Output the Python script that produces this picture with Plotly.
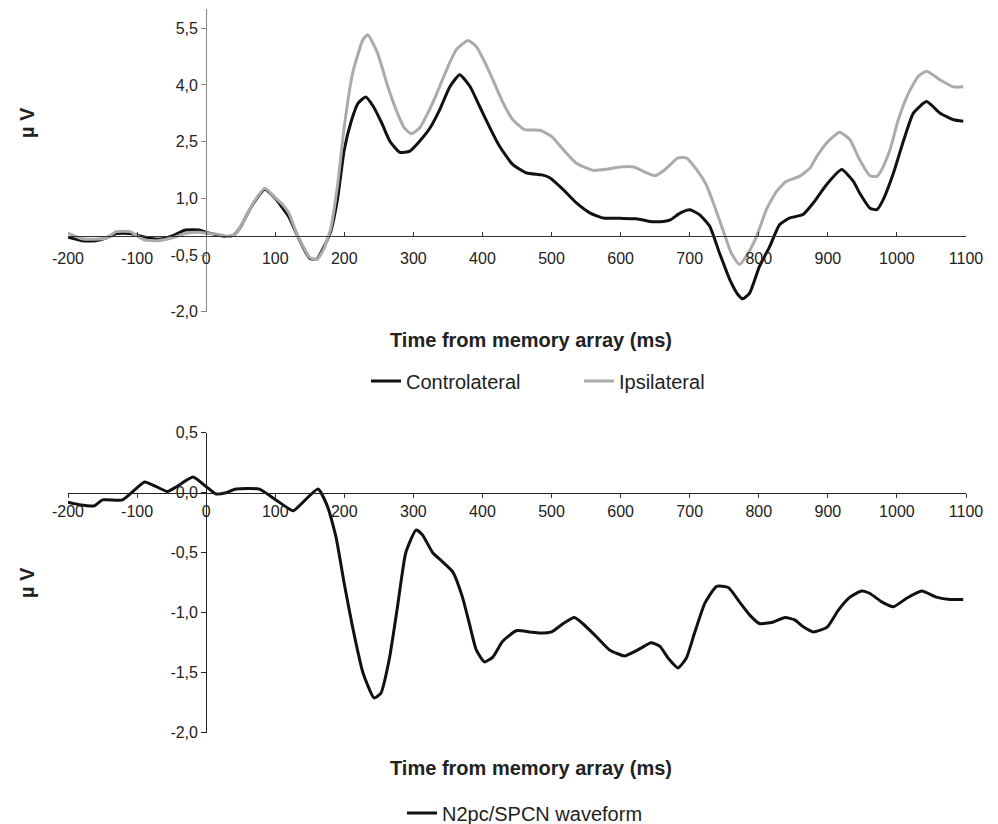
import plotly.graph_objects as go

# ---------------- data ----------------
t_contra = [-200, -180, -160, -145, -130, -110, -90, -70, -50, -30, -10, 0, 20, 30, 40, 50, 60, 70, 85,
            100, 110, 120, 130, 140, 150, 160, 170, 180, 190, 200, 210, 220, 231, 242, 254, 266, 280,
            295, 309, 324, 338, 353, 367, 382, 396, 411, 425, 444, 464, 486, 498, 517, 536, 556, 575,
            599, 623, 642, 662, 672, 686, 700, 714, 729, 743, 758, 770, 777, 787, 801, 816, 830, 845,
            864, 879, 898, 920, 937, 946, 961, 971, 980, 995, 1010, 1024, 1043, 1062, 1082, 1096]
v_contra = [-0.03, -0.12, -0.12, -0.05, 0.07, 0.07, -0.02, -0.08, 0.0, 0.16, 0.16, 0.1, 0.02, -0.01, 0.03,
            0.25, 0.6, 0.91, 1.24, 1.0, 0.76, 0.5, 0.1, -0.28, -0.59, -0.61, -0.3, 0.1, 0.96, 2.29, 3.04,
            3.52, 3.68, 3.43, 3.0, 2.51, 2.22, 2.25, 2.51, 2.86, 3.34, 3.96, 4.27, 3.96, 3.43, 2.86, 2.37,
            1.89, 1.67, 1.62, 1.54, 1.23, 0.88, 0.61, 0.48, 0.47, 0.46, 0.39, 0.39, 0.43, 0.61, 0.7, 0.57,
            0.26, -0.44, -1.15, -1.55, -1.66, -1.5, -0.8, -0.27, 0.3, 0.48, 0.57, 0.88, 1.36, 1.76, 1.45,
            1.14, 0.74, 0.7, 0.96, 1.67, 2.55, 3.26, 3.56, 3.26, 3.08, 3.04]

t_ipsi = [-200, -180, -160, -145, -130, -110, -90, -70, -50, -30, -10, 0, 20, 30, 40, 50, 60, 70, 85,
          100, 110, 120, 130, 140, 150, 160, 170, 180, 190, 200, 212, 227, 234, 248, 263, 275, 287, 297,
          309, 321, 333, 348, 362, 379, 391, 403, 415, 430, 444, 461, 483, 500, 517, 536, 561, 580, 599,
          619, 636, 650, 662, 672, 683, 695, 710, 724, 736, 748, 760, 772, 785, 797, 811, 826, 840, 859,
          874, 884, 898, 917, 932, 946, 961, 971, 978, 990, 1002, 1017, 1031, 1043, 1062, 1082, 1096]
v_ipsi = [0.08, -0.07, -0.08, -0.05, 0.12, 0.12, -0.1, -0.12, -0.05, 0.07, 0.1, 0.08, 0.04, -0.01, 0.03,
          0.25, 0.6, 0.93, 1.27, 1.02, 0.85, 0.6, 0.12, -0.26, -0.57, -0.62, -0.35, 0.17, 1.32, 2.9, 4.31,
          5.2, 5.33, 4.85, 3.96, 3.34, 2.86, 2.71, 2.86, 3.26, 3.74, 4.4, 4.93, 5.18, 5.02, 4.62, 4.14,
          3.52, 3.08, 2.82, 2.8, 2.64, 2.29, 1.93, 1.74, 1.77, 1.83, 1.83, 1.69, 1.6, 1.73, 1.89, 2.07,
          2.07, 1.76, 1.36, 0.79, 0.17, -0.44, -0.75, -0.44, 0.0, 0.7, 1.19, 1.45, 1.58, 1.8, 2.11, 2.46,
          2.75, 2.55, 2.02, 1.6, 1.58, 1.76, 2.29, 3.08, 3.79, 4.23, 4.36, 4.14, 3.95, 3.95]

t_diff = [-200, -184, -162, -150, -121, -106, -89, -72, -56, -43, -19, -2, 14, 29, 43, 77, 101, 126, 140,
          162, 176, 188, 200, 212, 227, 243, 253, 265, 277, 289, 304, 313, 328, 343, 357, 371, 381, 391,
          403, 415, 429, 449, 468, 483, 500, 517, 533, 545, 565, 584, 606, 628, 644, 657, 669, 683, 695,
          707, 722, 739, 756, 772, 787, 801, 820, 838, 852, 865, 879, 899, 915, 932, 949, 961, 978, 995,
          1014, 1036, 1057, 1077, 1096]
v_diff = [-0.08, -0.1, -0.11, -0.06, -0.06, 0.01, 0.09, 0.05, 0.01, 0.05, 0.13, 0.06, -0.01, 0.0, 0.03,
          0.03, -0.06, -0.15, -0.08, 0.03, -0.12, -0.37, -0.76, -1.12, -1.5, -1.71, -1.67, -1.39, -0.95,
          -0.5, -0.31, -0.35, -0.5, -0.58, -0.66, -0.87, -1.09, -1.31, -1.41, -1.37, -1.24, -1.15, -1.16,
          -1.17, -1.16, -1.09, -1.04, -1.09, -1.2, -1.31, -1.36, -1.3, -1.25, -1.28, -1.38, -1.46, -1.38,
          -1.17, -0.92, -0.78, -0.79, -0.91, -1.02, -1.09, -1.08, -1.04, -1.06, -1.12, -1.16, -1.12, -0.98,
          -0.87, -0.82, -0.84, -0.91, -0.95, -0.88, -0.82, -0.87, -0.89, -0.89]

x_ticks = list(range(-200, 1101, 100))
x_ticktext = [str(v) for v in x_ticks]
y1_ticks = [-2.0, -0.5, 1.0, 2.5, 4.0, 5.5]
y1_ticktext = ["-2,0", "-0,5", "1,0", "2,5", "4,0", "5,5"]
y2_ticks = [-2.0, -1.5, -1.0, -0.5, 0.0, 0.5]
y2_ticktext = ["-2,0", "-1,5", "-1,0", "-0,5", "0,0", "0,5"]

x_title = "Time from memory array (ms)"
y_title = "µ V"

# ---------------- layout geometry ----------------
# the page body has an 8px margin, so the figure is 990x816 and
# reference pixel positions are shifted by 8px.
OFF = 8
W, H = 998 - OFF, 824 - OFF
FONT = "Liberation Sans, Arial, Helvetica, sans-serif"

def px(xp):
    return (xp - OFF) / W

def py(yp):
    return 1 - (yp - OFF) / H

xd = [px(68), px(966)]
y1d = [py(311.7), py(9.4)]
y2d = [py(732.7), py(432.7)]
x_range = [-200, 1100]
y1_range = [-2.0, 6.0]
y2_range = [-2.0, 0.5]

def frac(val, rng, dom):
    return dom[0] + (val - rng[0]) / (rng[1] - rng[0]) * (dom[1] - dom[0])

fig = go.Figure()
fig.add_trace(go.Scatter(x=t_contra, y=v_contra, mode="lines", name="Controlateral",
                         line=dict(color="#111111", width=3, shape="spline", smoothing=0.5),
                         xaxis="x", yaxis="y", legend="legend"))
fig.add_trace(go.Scatter(x=t_ipsi, y=v_ipsi, mode="lines", name="Ipsilateral",
                         line=dict(color="#ababab", width=3, shape="spline", smoothing=0.5),
                         xaxis="x", yaxis="y", legend="legend"))
fig.add_trace(go.Scatter(x=t_diff, y=v_diff, mode="lines", name="N2pc/SPCN waveform",
                         line=dict(color="#111111", width=3, shape="spline", smoothing=0.5),
                         xaxis="x2", yaxis="y2", legend="legend2"))

tickfont = dict(family=FONT, size=16, color="#222222")
common_x = dict(range=x_range, domain=xd, anchor="free", showline=True, linewidth=1,
                tickvals=x_ticks, ticktext=x_ticktext, tickfont=tickfont, showgrid=False,
                zeroline=False, tickcolor="#333333", ticklen=4, tickwidth=1, automargin=False)

fig.update_layout(
    width=W, height=H, autosize=False,
    margin=dict(l=0, r=0, t=0, b=0, autoexpand=False),
    paper_bgcolor="white", plot_bgcolor="white",
    font=dict(family=FONT, color="#222222"),
    showlegend=True,
    xaxis=dict(**common_x, linecolor="#333333", ticks="inside", ticklabelstandoff=8,
               position=frac(0, y1_range, y1d)),
    yaxis=dict(range=y1_range, domain=y1d, anchor="free", position=frac(0, x_range, xd),
               showline=True, linecolor="#888888", linewidth=1, ticks="outside", ticklen=5,
               tickcolor="#888888", tickvals=y1_ticks, ticktext=y1_ticktext, tickfont=tickfont,
               showgrid=False, zeroline=False, automargin=False),
    xaxis2=dict(**common_x, linecolor="#222222", ticks="outside",
                position=frac(0, y2_range, y2d)),
    yaxis2=dict(range=y2_range, domain=y2d, anchor="free", position=frac(0, x_range, xd),
                showline=True, linecolor="#222222", linewidth=1, ticks="outside", ticklen=5,
                tickcolor="#222222", tickvals=y2_ticks, ticktext=y2_ticktext, tickfont=tickfont,
                showgrid=False, zeroline=False, automargin=False),
    legend=dict(orientation="h", x=px(366), y=py(381), xanchor="left", yanchor="middle",
                font=dict(family=FONT, size=20, color="#222222"), entrywidth=168,
                entrywidthmode="pixels", bgcolor="rgba(0,0,0,0)", itemclick=False),
    legend2=dict(orientation="h", x=px(402), y=py(813), xanchor="left", yanchor="middle",
                 font=dict(family=FONT, size=20, color="#222222"),
                 bgcolor="rgba(0,0,0,0)", itemclick=False),
    annotations=[
        dict(text="<b>" + x_title + "</b>", x=px(531), y=py(340), xref="paper", yref="paper",
             showarrow=False, font=dict(family=FONT, size=20, color="#222222"),
             xanchor="center", yanchor="middle"),
        dict(text="<b>" + x_title + "</b>", x=px(531), y=py(768), xref="paper", yref="paper",
             showarrow=False, font=dict(family=FONT, size=20, color="#222222"),
             xanchor="center", yanchor="middle"),
        dict(text="<b>" + y_title + "</b>", x=px(27), y=py(123), xref="paper", yref="paper",
             showarrow=False, textangle=-90, font=dict(family=FONT, size=20, color="#222222"),
             xanchor="center", yanchor="middle"),
        dict(text="<b>" + y_title + "</b>", x=px(27), y=py(583), xref="paper", yref="paper",
             showarrow=False, textangle=-90, font=dict(family=FONT, size=20, color="#222222"),
             xanchor="center", yanchor="middle"),
    ],
)

fig.write_html("out.html")
